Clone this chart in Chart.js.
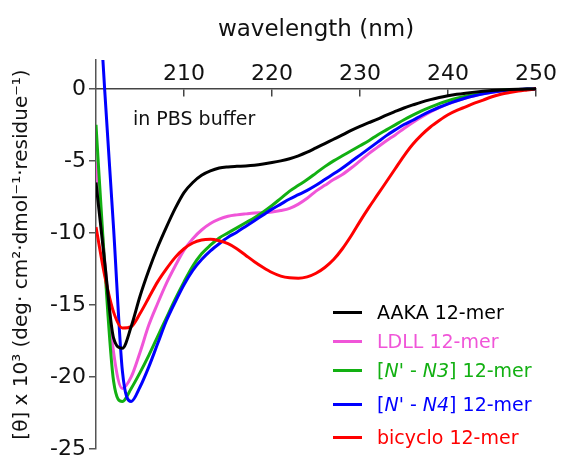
<!DOCTYPE html>
<html>
<head>
<meta charset="utf-8">
<script src="https://cdn.jsdelivr.net/npm/chart.js@4"></script>
<style>
  html, body { margin: 0; padding: 0; background: #fff; }
  #wrap { position: relative; width: 561px; height: 459px; }
  #legend { position: absolute; left: 0; top: 0; font-family: 'DejaVu Sans'; font-size: 19px; }
  .leg-row { position: absolute; left: 333px; height: 24px; display: flex; align-items: center; white-space: nowrap; }
  .leg-line { width: 29px; height: 3px; margin-right: 15px; }
</style>
</head>
<body>
<div id="wrap">
  <canvas id="cdChart" width="561" height="459"></canvas>
  <div id="legend"></div>
</div>
<script>
// wavelength (nm), 1 nm steps
const wavelengths = [200, 201, 202, 203, 204, 205, 206, 207, 208, 209,
  210, 211, 212, 213, 214, 215, 216, 217, 218, 219,
  220, 221, 222, 223, 224, 225, 226, 227, 228, 229,
  230, 231, 232, 233, 234, 235, 236, 237, 238, 239,
  240, 241, 242, 243, 244, 245, 246, 247, 248, 249, 250];

// [theta] x 10^3 per series
const aaka = [-6.5, -12.1, -17.3, -18.0, -16.5, -14.4, -12.6, -11.0, -9.6, -8.3,
  -7.2, -6.5, -6.0, -5.7, -5.5, -5.42, -5.38, -5.35, -5.3, -5.22,
  -5.12, -5.0, -4.85, -4.65, -4.4, -4.1, -3.8, -3.5, -3.2, -2.88,
  -2.6, -2.35, -2.1, -1.82, -1.57, -1.33, -1.12, -0.92, -0.75, -0.6,
  -0.48, -0.38, -0.3, -0.23, -0.17, -0.12, -0.08, -0.05, -0.03, -0.02, 0];

const ldll = [-5.1, -12.0, -18.3, -20.8, -20.0, -18.3, -16.4, -14.9, -13.5, -12.3,
  -11.2, -10.4, -9.8, -9.35, -9.05, -8.85, -8.75, -8.68, -8.62, -8.6,
  -8.55, -8.45, -8.3, -8.0, -7.6, -7.1, -6.7, -6.3, -5.95, -5.5,
  -5.0, -4.5, -4.05, -3.6, -3.2, -2.75, -2.33, -1.95, -1.6, -1.3,
  -1.05, -0.83, -0.64, -0.48, -0.35, -0.24, -0.15, -0.09, -0.05, -0.02, 0];

const n3 = [-2.5, -12.4, -20.3, -21.7, -20.8, -19.7, -18.5, -17.2, -15.9, -14.6,
  -13.4, -12.3, -11.45, -10.85, -10.35, -10.0, -9.65, -9.3, -8.95, -8.55,
  -8.1, -7.6, -7.1, -6.7, -6.3, -5.85, -5.4, -5.0, -4.65, -4.3,
  -3.95, -3.6, -3.2, -2.85, -2.5, -2.15, -1.83, -1.53, -1.27, -1.03,
  -0.83, -0.66, -0.51, -0.39, -0.28, -0.19, -0.12, -0.07, -0.04, -0.02, 0];

const n4 = [10, -0.2, -9.7, -19.6, -21.7, -20.7, -19.3, -17.7, -16.1, -14.8,
  -13.6, -12.6, -11.85, -11.25, -10.75, -10.3, -9.95, -9.55, -9.15, -8.75,
  -8.35, -8.0, -7.65, -7.35, -7.05, -6.7, -6.3, -5.9, -5.5, -5.05,
  -4.6, -4.15, -3.7, -3.25, -2.85, -2.48, -2.18, -1.85, -1.55, -1.28,
  -1.04, -0.83, -0.64, -0.48, -0.35, -0.24, -0.15, -0.09, -0.05, -0.02, 0];

const bicyclo = [-9.6, -13.0, -15.5, -16.6, -16.5, -15.6, -14.5, -13.4, -12.5, -11.7,
  -11.1, -10.7, -10.5, -10.45, -10.55, -10.75, -11.1, -11.55, -12.0, -12.4,
  -12.75, -13.0, -13.12, -13.15, -13.05, -12.8, -12.4, -11.85, -11.1, -10.2,
  -9.2, -8.25, -7.35, -6.45, -5.55, -4.65, -3.85, -3.2, -2.65, -2.2,
  -1.8, -1.5, -1.25, -1.0, -0.78, -0.55, -0.38, -0.26, -0.16, -0.08, 0];

const seriesNames = ['AAKA 12-mer', 'LDLL 12-mer', "[N' - N3] 12-mer", "[N' - N4] 12-mer", 'bicyclo 12-mer'];
const seriesHtml = ['AAKA 12-mer', 'LDLL 12-mer', "[<i>N'</i> - <i>N3</i>] 12-mer", "[<i>N'</i> - <i>N4</i>] 12-mer", 'bicyclo 12-mer'];
const seriesColors = ['#000000', '#f055d8', '#12b012', '#0000ff', '#ff0000'];
const seriesValues = [aaka, ldll, n3, n4, bicyclo];

const FONT = 'DejaVu Sans';

function toPoints(vals) {
  return wavelengths.map((w, i) => ({ x: w, y: vals[i] }));
}

// texts that sit inside the plot: axis title on top + buffer note
const textPlugin = {
  id: 'cdText',
  afterDraw(chart) {
    const { ctx, scales: { x, y } } = chart;
    ctx.save();
    ctx.fillStyle = '#111';
    ctx.font = '23px "' + FONT + '"';
    ctx.textAlign = 'center';
    ctx.textBaseline = 'alphabetic';
    ctx.fillText('wavelength (nm)', (x.left + x.right) / 2, 36);
    ctx.font = '19px "' + FONT + '"';
    ctx.textAlign = 'left';
    ctx.fillText('in PBS buffer', x.getPixelForValue(204.2), y.getPixelForValue(-2.5));
    ctx.restore();
  }
};

const ctx = document.getElementById('cdChart').getContext('2d');
const cdChart = new Chart(ctx, {
  type: 'line',
  data: {
    datasets: seriesValues.map((vals, i) => ({
      label: seriesNames[i],
      data: toPoints(vals),
      borderColor: seriesColors[i],
      borderWidth: 3,
      pointRadius: 0,
      cubicInterpolationMode: 'monotone',
      fill: false,
      order: i === 0 ? 0 : i === 4 ? 1 : 5 - i
    }))
  },
  options: {
    responsive: false,
    animation: false,
    layout: { padding: { left: 0, right: 25, top: 60, bottom: 10 } },
    plugins: {
      legend: { display: false },
      tooltip: { enabled: false }
    },
    scales: {
      x: {
        type: 'linear',
        min: 200,
        max: 250,
        position: { y: 0 },
        border: { display: true, color: '#444', width: 1.5 },
        grid: { drawOnChartArea: false, drawTicks: true, tickLength: 7, color: '#444', lineWidth: 1.5 },
        ticks: {
          stepSize: 10,
          padding: -35,
          color: '#111',
          font: { family: FONT, size: 22 },
          callback: v => (v === 200 ? null : v)
        },
        afterFit: s => { s.paddingLeft = 0; s.paddingRight = 0; }
      },
      y: {
        min: -25,
        max: 2,
        position: 'left',
        border: { display: true, color: '#555', width: 1.5 },
        grid: { drawOnChartArea: false, tickLength: 7, color: '#555', lineWidth: 1.5 },
        ticks: {
          stepSize: 5,
          padding: 3,
          color: '#111',
          font: { family: FONT, size: 22 },
          callback: v => (v % 5 === 0 ? v : null)
        },
        title: {
          display: true,
          text: '[\u03B8] x 10\u00B3 (deg\u00B7 cm\u00B2\u00B7dmol\u207B\u00B9\u00B7residue\u207B\u00B9)',
          color: '#111',
          font: { family: FONT, size: 20 },
          padding: { top: 10, bottom: 0 }
        },
        afterFit: s => { s.width = 96; s.paddingTop = 0; s.paddingBottom = 0; }
      }
    }
  },
  plugins: [textPlugin]
});

// legend rows (centre y of each row in px)
const legendRowY = [312, 341, 370, 404, 437];
const legendEl = document.getElementById('legend');
seriesHtml.forEach((html, i) => {
  const row = document.createElement('div');
  row.className = 'leg-row';
  row.style.top = (legendRowY[i] - 12) + 'px';
  row.style.color = seriesColors[i];
  row.innerHTML = `<span class="leg-line" style="background:${seriesColors[i]}"></span><span>${html}</span>`;
  legendEl.appendChild(row);
});
</script>
</body>
</html>
